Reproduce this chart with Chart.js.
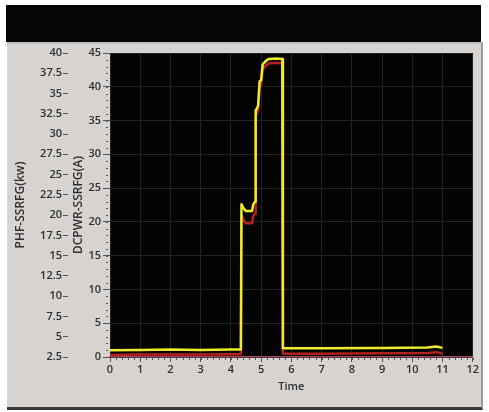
<!DOCTYPE html>
<html>
<head>
<meta charset="utf-8">
<script src="https://cdn.jsdelivr.net/npm/chart.js@4/dist/chart.umd.min.js"></script>
<style>
    body { margin: 0; background: #ffffff; width: 489px; height: 412px; position: relative; overflow: hidden; }
    #band { position: absolute; left: 6px; top: 5px; width: 475px; height: 37px; background: #050505; }
    #panel { position: absolute; left: 7px; top: 42px; width: 474px; height: 363px; background: #d6d3d1;
             border-top: 2px solid #bdbcbc; border-right: 2px solid #9c9a99; border-bottom: 3px solid #3a3636; }
    #chartWrap { position: absolute; left: 7px; top: 44px; width: 473px; height: 360px; }
</style>
</head>
<body>
<div id="band"></div>
<div id="panel"></div>
<div id="chartWrap"><canvas id="myChart" width="473" height="360"></canvas></div>
<script>
    // time axis (shared by both traces)
    const timeValues = [0, 1, 2, 3, 4, 4.33, 4.35, 4.42, 4.5, 4.7, 4.74, 4.8, 4.82, 4.86, 4.9, 4.95, 5.0, 5.05, 5.15, 5.25, 5.5, 5.7, 5.72, 7, 9, 10.5, 10.8, 11.0];

    // DCPWR-SSRFG(A), inner scale 0..45 (yellow trace)
    const dcpwrValues = [1.0, 1.05, 1.1, 1.05, 1.1, 1.1, 22.6, 22.0, 21.6, 21.6, 22.6, 23.0, 36.5, 36.8, 37.2, 40.8, 41.0, 43.3, 43.8, 44.1, 44.2, 44.1, 1.3, 1.3, 1.35, 1.4, 1.55, 1.35];

    // PHF-SSRFG(kw), outer scale 2.5..40 (red trace)
    const phfValues = [2.75, 2.8, 2.8, 2.8, 2.85, 2.85, 20.0, 19.4, 19.0, 19.0, 19.9, 20.2, 32.3, 32.6, 32.9, 35.9, 36.1, 38.0, 38.4, 38.7, 38.8, 38.7, 2.9, 2.9, 2.95, 3.0, 3.1, 2.9];

    // tick settings
    const timeTicks = { min: 0, max: 12, step: 1 };
    const dcpwrTicks = { min: 0, max: 45, step: 5 };
    const phfTicks = { min: 2.5, max: 40, step: 2.5 };

    const labelFont = { family: 'Open Sans', size: 11, weight: '600' };
    const labelColor = '#2e2e2e';

    // black plot area background
    const plotBackground = {
        id: 'plotBackground',
        beforeDraw(chart) {
            const a = chart.chartArea;
            const ctx = chart.ctx;
            ctx.save();
            ctx.fillStyle = '#040404';
            ctx.fillRect(a.left, a.top, a.right - a.left, a.bottom - a.top);
            ctx.restore();
        }
    };

    // small minor tick marks like the LabVIEW graph
    const minorTicks = {
        id: 'minorTicks',
        afterDraw(chart) {
            const ctx = chart.ctx;
            const a = chart.chartArea;
            const xs = chart.scales.x;
            const ys = chart.scales.yDc;
            ctx.save();
            ctx.strokeStyle = '#555555';
            ctx.lineWidth = 1;
            ctx.beginPath();
            for (let v = xs.min; v <= xs.max + 1e-6; v += 0.2) {
                const px = Math.round(xs.getPixelForValue(v)) + 0.5;
                ctx.moveTo(px, a.bottom + 1);
                ctx.lineTo(px, a.bottom + 3);
            }
            for (let v = ys.min; v <= ys.max + 1e-6; v += 1) {
                const py = Math.round(ys.getPixelForValue(v)) + 0.5;
                ctx.moveTo(a.left - 4, py);
                ctx.lineTo(a.left - 2, py);
            }
            ctx.stroke();
            ctx.restore();
        }
    };

    const myChart = new Chart(document.getElementById('myChart'), {
        type: 'line',
        data: {
            datasets: [{
                label: 'DCPWR-SSRFG(A)',
                data: timeValues.map((t, i) => ({ x: t, y: dcpwrValues[i] })),
                yAxisID: 'yDc',
                borderColor: '#ecec2a',
                borderWidth: 2.5,
                borderJoinStyle: 'round',
                pointRadius: 0,
                tension: 0,
                order: 0
            }, {
                label: 'PHF-SSRFG(kw)',
                data: timeValues.map((t, i) => ({ x: t, y: phfValues[i] })),
                yAxisID: 'yPhf',
                borderColor: '#b3221c',
                borderWidth: 2.5,
                borderJoinStyle: 'round',
                pointRadius: 0,
                tension: 0,
                order: 1
            }]
        },
        options: {
            responsive: false,
            animation: false,
            layout: { padding: { top: 9, right: 6, bottom: 7, left: 0 } },
            plugins: {
                legend: { display: false },
                tooltip: { enabled: false }
            },
            scales: {
                x: {
                    type: 'linear',
                    min: timeTicks.min,
                    max: timeTicks.max,
                    ticks: { stepSize: timeTicks.step, color: labelColor, font: labelFont, padding: 1, maxRotation: 0 },
                    grid: { color: '#222222', tickColor: '#555555', tickLength: 5 },
                    border: { color: '#9a4a5e', width: 1.5 },
                    title: { display: true, text: 'Time', color: labelColor, font: { family: 'Open Sans', size: 11, weight: '600' }, padding: { top: 2, bottom: 4 } },
                    afterFit(scale) { scale.height = 40; }
                },
                yDc: {
                    type: 'linear',
                    position: 'left',
                    weight: 0,
                    min: dcpwrTicks.min,
                    max: dcpwrTicks.max,
                    ticks: { stepSize: dcpwrTicks.step, color: labelColor, font: labelFont, padding: 2 },
                    grid: { color: '#222222', tickColor: '#555555', tickLength: 7 },
                    border: { display: false },
                    title: { display: true, text: 'DCPWR-SSRFG(A)', color: labelColor, font: { family: 'Open Sans', size: 12, weight: '600' }, padding: { top: 3, bottom: 0 } },
                    afterFit(scale) { scale.width = 42; }
                },
                yPhf: {
                    type: 'linear',
                    position: 'left',
                    weight: 1,
                    min: phfTicks.min,
                    max: phfTicks.max,
                    ticks: { stepSize: phfTicks.step, color: labelColor, font: labelFont, padding: 1 },
                    grid: { drawOnChartArea: false, tickColor: '#555555', tickLength: 5 },
                    border: { display: false },
                    title: { display: true, text: 'PHF-SSRFG(kw)', color: labelColor, font: { family: 'Open Sans', size: 12, weight: '600' }, padding: { top: 6, bottom: 0 } },
                    afterFit(scale) { scale.width = 61; }
                }
            }
        },
        plugins: [plotBackground, minorTicks]
    });
</script>
</body>
</html>
